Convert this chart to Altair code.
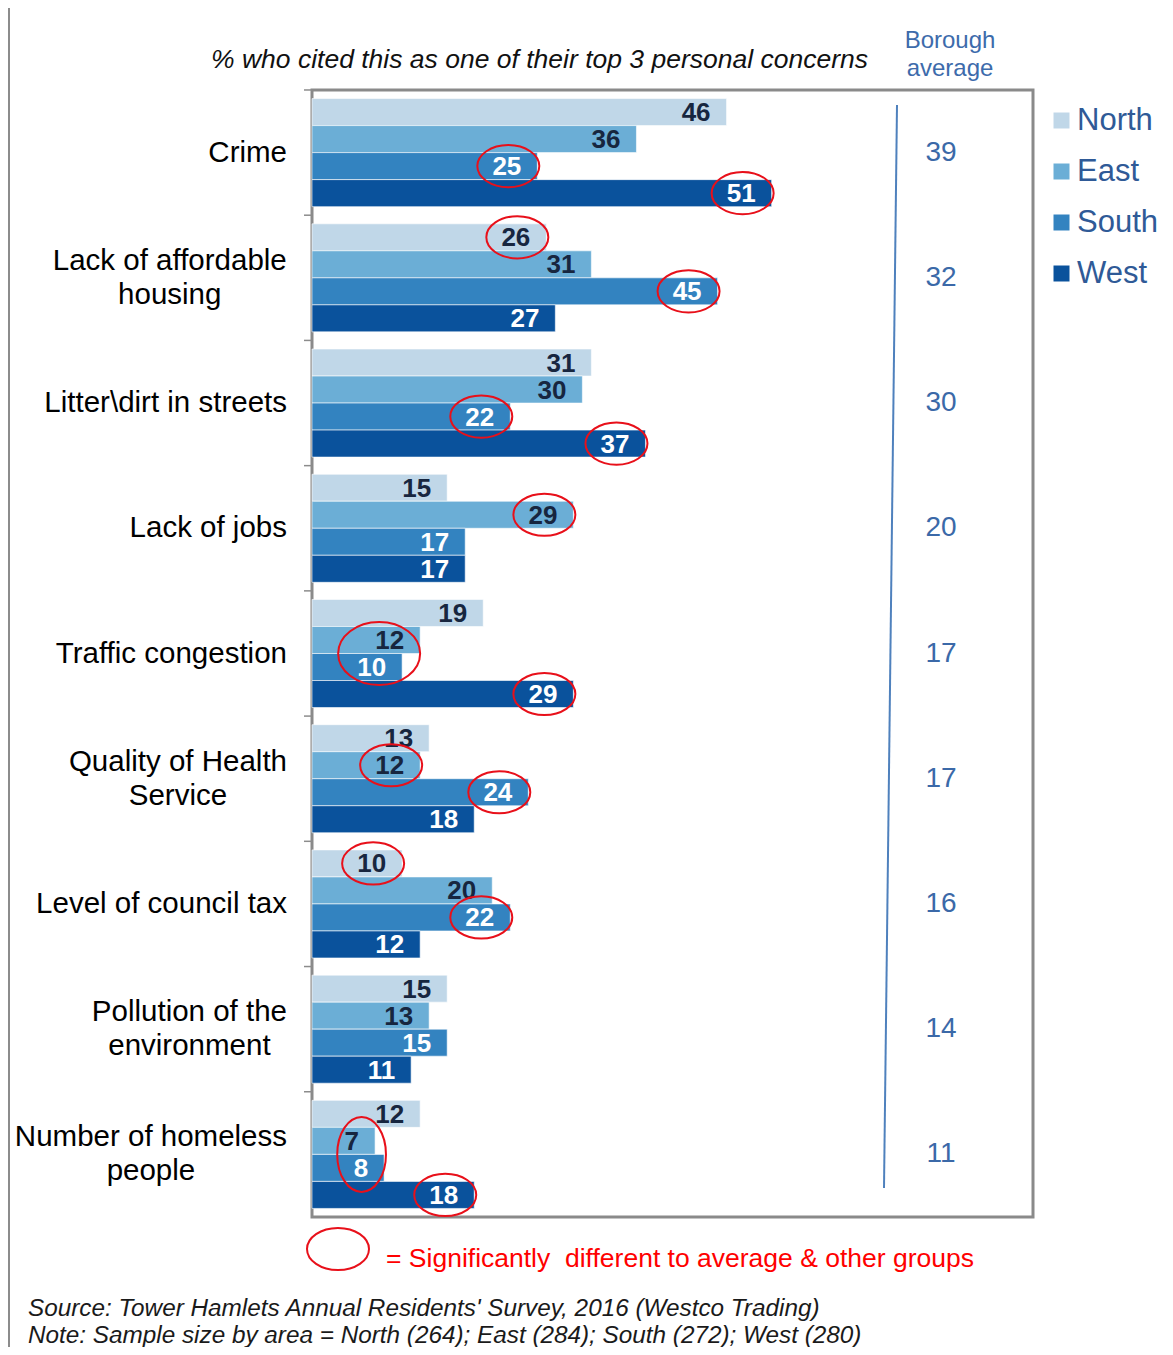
import altair as alt
import pandas as pd

FONT = "Liberation Sans"

# ---------------- data ----------------
categories = [
    "Crime",
    "Lack of affordable housing",
    "Litter\\dirt in streets",
    "Lack of jobs",
    "Traffic congestion",
    "Quality of Health Service",
    "Level of council tax",
    "Pollution of the environment",
    "Number of homeless people",
]
# how each category name is broken over lines on the axis
label_line1 = ["Crime", "Lack of affordable", "Litter\\dirt in streets", "Lack of jobs",
               "Traffic congestion", "Quality of Health", "Level of council tax",
               "Pollution of the", "Number of homeless"]
label_line2 = ["", "housing", "", "", "", "Service", "", "environment", "people"]

series = ["North", "East", "South", "West"]
north = [46, 26, 31, 15, 19, 13, 10, 15, 12]
east = [36, 31, 30, 29, 12, 12, 20, 13, 7]
south = [25, 45, 22, 17, 10, 24, 22, 15, 8]
west = [51, 27, 37, 17, 29, 18, 12, 11, 18]
borough_avg = [39, 32, 30, 20, 17, 17, 16, 14, 11]

# significant differences: (category index, series)
sig_single = [
    (0, "South"), (0, "West"),
    (1, "North"), (1, "South"),
    (2, "South"), (2, "West"),
    (3, "East"),
    (4, "West"),
    (5, "East"), (5, "South"),
    (6, "North"), (6, "South"),
    (8, "West"),
]
# one ellipse around the East+South pair
sig_pair = [4, 8]

colors = ["#c0d7e8", "#6baed6", "#3383c0", "#0a529c"]

# ---------- text-width helper (Arial / Liberation Sans metrics) ----------
W = {" ": 278, "a": 556, "b": 556, "c": 500, "d": 556, "e": 556, "f": 278, "g": 556,
     "h": 556, "i": 222, "j": 222, "k": 500, "l": 222, "m": 833, "n": 556, "o": 556,
     "p": 556, "q": 556, "r": 333, "s": 500, "t": 278, "u": 556, "v": 500, "w": 722,
     "x": 500, "y": 500, "z": 500, "H": 722, "L": 556, "N": 722, "P": 667, "Q": 778,
     "S": 667, "C": 722}
CAT_FS = 29.5
LABEL_RIGHT = -25


def tw(s, fs):
    return sum(W.get(ch, 556) for ch in s) * fs / 1000.0


vals = {"North": north, "East": east, "South": south, "West": west}
rows = []
for ci, cat in enumerate(categories):
    for s in series:
        rows.append({"cat": cat, "series": s, "value": vals[s][ci]})
df = pd.DataFrame(rows)

avg_df = pd.DataFrame({"cat": categories, "avg": borough_avg})

cat_df = pd.DataFrame({
    "cat": categories, "line1": label_line1, "line2": label_line2,
    "cx": [LABEL_RIGHT - tw(a, CAT_FS) / 2 for a in label_line1],
})

sig_df = pd.DataFrame([{"cat": categories[ci], "series": s, "value": vals[s][ci]}
                       for ci, s in sig_single])
pair_df = pd.DataFrame([{"cat": categories[ci], "key": ci,
                         "value": (vals["East"][ci] + vals["South"][ci]) / 2}
                        for ci in sig_pair])
one = pd.DataFrame({"k": [0]})

# ---------------- encodings ----------------
y_enc = alt.Y(
    "cat:N", sort=categories,
    scale=alt.Scale(domain=categories, paddingInner=0.137, paddingOuter=0.0685),
    axis=None,
)
y_plain = alt.Y("cat:N", sort=categories)
yoff = alt.YOffset("series:N", sort=series,
                   scale=alt.Scale(domain=series, paddingInner=0, paddingOuter=0))
x_enc = alt.X("value:Q", scale=alt.Scale(domain=[0, 80]), axis=None)

bars = alt.Chart(df).mark_bar(stroke="white", strokeWidth=0.6).encode(
    y=y_enc, yOffset=yoff, x=x_enc,
    color=alt.Color("series:N", sort=series,
                    scale=alt.Scale(domain=series, range=colors),
                    legend=alt.Legend(orient="none", legendX=734, legendY=15,
                                      title=None, symbolType="square",
                                      symbolSize=256, symbolStrokeWidth=0,
                                      labelFont=FONT, labelFontSize=31,
                                      labelColor="#2f5a97", rowPadding=19,
                                      labelOffset=0, padding=0)),
)

labels = alt.Chart(df).mark_text(align="right", baseline="middle", dx=-16, dy=1,
                                 font=FONT, fontSize=26, fontWeight="bold").encode(
    y=y_plain, yOffset=yoff, x=x_enc, text="value:Q",
    color=alt.condition(alt.FieldOneOfPredicate(field="series", oneOf=["North", "East"]),
                        alt.value("#17263f"), alt.value("#ffffff")),
)

# category labels: single-line ones right aligned, two-line ones centred on each other
cat_single = alt.Chart(cat_df).transform_filter("datum.line2 == ''").mark_text(
    font=FONT, fontSize=CAT_FS, color="#000000", align="right", baseline="middle").encode(
    y=y_plain, x=alt.value(LABEL_RIGHT), text="line1:N")
cat_double = alt.Chart(cat_df).transform_filter("datum.line2 != ''").transform_calculate(
    lines="[datum.line1, datum.line2]").mark_text(
    font=FONT, fontSize=CAT_FS, color="#000000", align="center", baseline="middle",
    lineHeight=34, dy=-17).encode(
    y=y_plain, x=alt.X("cx:Q", scale=None), text="lines:N")

ellipse = "M -1 0 A 1 0.68 0 1 1 1 0 A 1 0.68 0 1 1 -1 0 Z"
sig = alt.Chart(sig_df).mark_point(shape=ellipse, size=62 * 62, filled=False,
                                   color="#e8101a", strokeWidth=2, opacity=1,
                                   xOffset=-29).encode(
    y=y_plain, yOffset=yoff, x=x_enc)

wide = "M -1 0 A 1 0.77 0 1 1 1 0 A 1 0.77 0 1 1 -1 0 Z"
pair_wide = alt.Chart(pair_df).transform_filter("datum.key == 4").mark_point(
    shape=wide, size=82 * 82, filled=False, color="#e8101a", strokeWidth=2,
    opacity=1, xOffset=-32).encode(y=y_plain, x=x_enc)

tall = "M -0.65 0 A 0.65 1 0 1 1 0.65 0 A 0.65 1 0 1 1 -0.65 0 Z"
pair_tall = alt.Chart(pair_df).transform_filter("datum.key == 8").mark_point(
    shape=tall, size=75 * 75, filled=False, color="#e8101a", strokeWidth=2,
    opacity=1, xOffset=-18).encode(y=y_plain, x=x_enc)

ticks = alt.Chart(avg_df).mark_rule(color="#8c8c8c", strokeWidth=1.5, yOffset=-8.6).encode(
    y=alt.Y("cat:N", sort=categories, bandPosition=0), x=alt.value(-8), x2=alt.value(0))

avg_line = alt.Chart(one).mark_rule(color="#4f81bd", strokeWidth=2).encode(
    x=alt.value(585), x2=alt.value(572), y=alt.value(15), y2=alt.value(1098))

avg_text = alt.Chart(avg_df).mark_text(font=FONT, fontSize=28, color="#3b69a8",
                                       align="center", baseline="middle").encode(
    y=y_plain, x=alt.value(629), text="avg:Q")

subtitle = alt.Chart(one).mark_text(font=FONT, fontSize=26.5, fontStyle="italic",
                                    color="#111111", align="right",
                                    baseline="middle").encode(
    x=alt.value(556), y=alt.value(-30),
    text=alt.value("% who cited this as one of their top 3 personal concerns"))

boro = alt.Chart(one).mark_text(font=FONT, fontSize=24, color="#3d6bab",
                                align="center", baseline="middle",
                                lineHeight=28).encode(
    x=alt.value(638), y=alt.value(-49), text=alt.value(["Borough", "average"]))

left_border = alt.Chart(one).mark_rule(color="#8c8c8c", strokeWidth=2).encode(
    x=alt.value(-303), y=alt.value(-90), y2=alt.value(1300))

key_ell = alt.Chart(one).mark_point(shape=ellipse, size=62 * 62, filled=False,
                                    color="#e8101a", strokeWidth=2, opacity=1).encode(
    x=alt.value(26), y=alt.value(1159))
key_txt = alt.Chart(one).mark_text(font=FONT, fontSize=26.5, color="#ff0000",
                                   align="left", baseline="middle").encode(
    x=alt.value(74), y=alt.value(1169),
    text=alt.value("= Significantly\u00a0 different to average & other groups"))

src = alt.Chart(one).mark_text(font=FONT, fontSize=24.3, fontStyle="italic",
                               color="#1a1a1a", align="left",
                               baseline="middle").encode(
    x=alt.value(-284), y=alt.value(1219),
    text=alt.value("Source: Tower Hamlets Annual Residents' Survey, 2016 (Westco Trading)"))
note = alt.Chart(one).mark_text(font=FONT, fontSize=24.3, fontStyle="italic",
                                color="#1a1a1a", align="left",
                                baseline="middle").encode(
    x=alt.value(-284), y=alt.value(1246),
    text=alt.value("Note: Sample size by area = North (264); East (284); South (272); West (280)"))

chart = alt.layer(
    bars, labels, cat_single, cat_double, sig, pair_wide, pair_tall, ticks,
    avg_line, avg_text, subtitle, boro, left_border, key_ell, key_txt, src, note,
).properties(
    width=721, height=1127, autosize="none",
    padding={"left": 304, "top": 82, "right": 132, "bottom": 130},
    background="white",
).configure_view(stroke="#8a8a8a", strokeWidth=3)

chart.save("out.html", embed_options={"renderer": "svg", "actions": False})
